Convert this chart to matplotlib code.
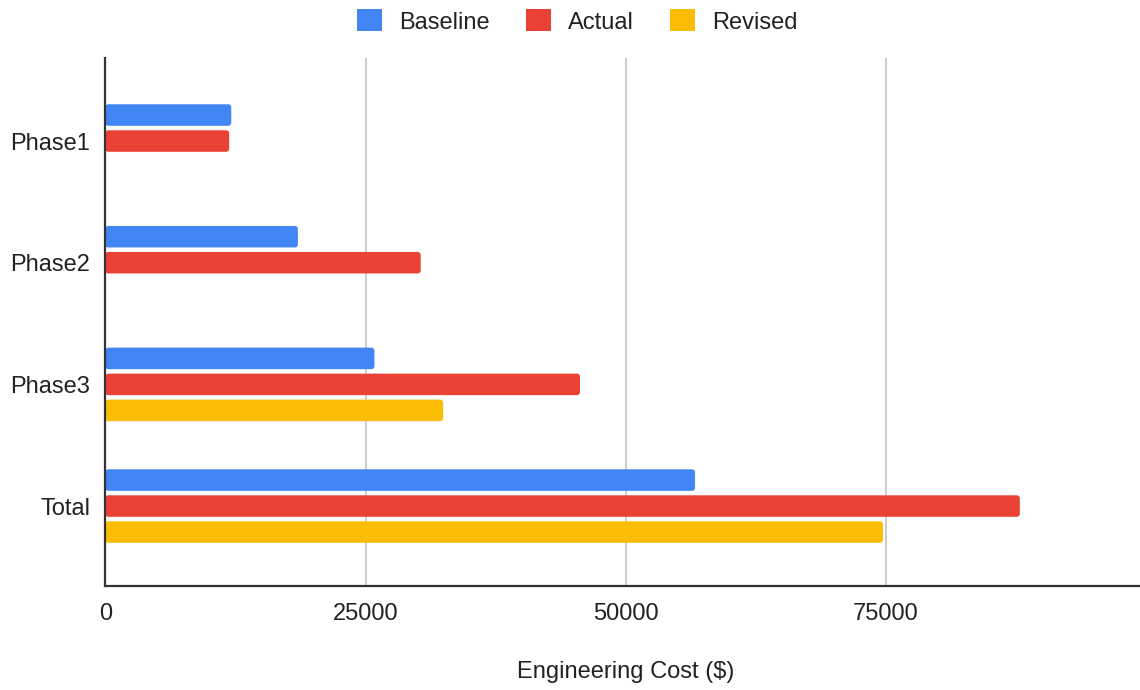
import numpy as np
import matplotlib
matplotlib.use("Agg")
import matplotlib.pyplot as plt
from matplotlib.patches import FancyBboxPatch, Patch

plt.rcParams['font.family'] = ['Liberation Sans', 'DejaVu Sans']

# engineering cost per phase, in dollars
phases   = ['Phase1', 'Phase2', 'Phase3', 'Total']
baseline = [12100, 18500, 25850, 56650]
actual   = [11900, 30300, 45600, 87850]
revised  = [np.nan, np.nan, 32450, 74700]

series_names  = ['Baseline', 'Actual', 'Revised']
series_values = [baseline, actual, revised]
series_colors = ['#4285F4', '#EA4335', '#FBBC04']

W, H = 1140, 690
fig = plt.figure(figsize=(W / 100, H / 100), dpi=100)
ax = fig.add_axes([105.3 / W, 104 / H, 1041 / W, 527.7 / H])

xmax = 100000
ymin, ymax = -0.68, 3.657
ax.set_xlim(0, xmax)
ax.set_ylim(ymax, ymin)

# data units per pixel, used to keep the corner rounding circular
x_per_px = xmax / 1041
y_per_px = (ymax - ymin) / 527.7

pos = np.arange(len(phases))
offset = 0.2137
height = 0.177

for k, (name, vals, col) in enumerate(zip(series_names, series_values, series_colors)):
    bars = ax.barh(pos + (k - 1) * offset, vals, height=height, color=col)
    for r in bars:
        w = r.get_width()
        r.remove()
        if np.isnan(w):
            continue
        ax.add_patch(FancyBboxPatch(
            (r.get_x(), r.get_y()), w, r.get_height(),
            boxstyle=f"round,pad=0,rounding_size={3 * x_per_px}",
            mutation_aspect=y_per_px / x_per_px,
            facecolor=col, edgecolor='none', zorder=2))

ax.set_yticks(pos)
ax.set_yticklabels(phases)
ax.set_xticks([0, 25000, 50000, 75000])
ax.set_xticklabels(['0', '25000', '50000', '75000'])
ax.tick_params(axis='both', length=0, labelsize=17, colors='#222222')
ax.tick_params(axis='y', pad=11)
ax.tick_params(axis='x', pad=12)

ax.grid(axis='x', color='#cccccc', linewidth=1.4, zorder=0)
ax.set_axisbelow(True)
for s in ['top', 'right']:
    ax.spines[s].set_visible(False)
for s in ['left', 'bottom']:
    ax.spines[s].set_color('#333333')
    ax.spines[s].set_linewidth(1.6)
    ax.spines[s].set_zorder(3)

ax.set_xlabel('Engineering Cost ($)', fontsize=17, color='#222222', labelpad=26)

handles = [Patch(facecolor=c, edgecolor='none') for c in series_colors]
fig.legend(handles, series_names, loc='center', ncol=3,
           bbox_to_anchor=(577.5 / W, 1 - 21.5 / H), frameon=False,
           fontsize=17, labelcolor='#222222',
           handlelength=1.05, handleheight=1.05, handletextpad=0.72,
           columnspacing=1.55)

fig.savefig('out.png', dpi=100)
